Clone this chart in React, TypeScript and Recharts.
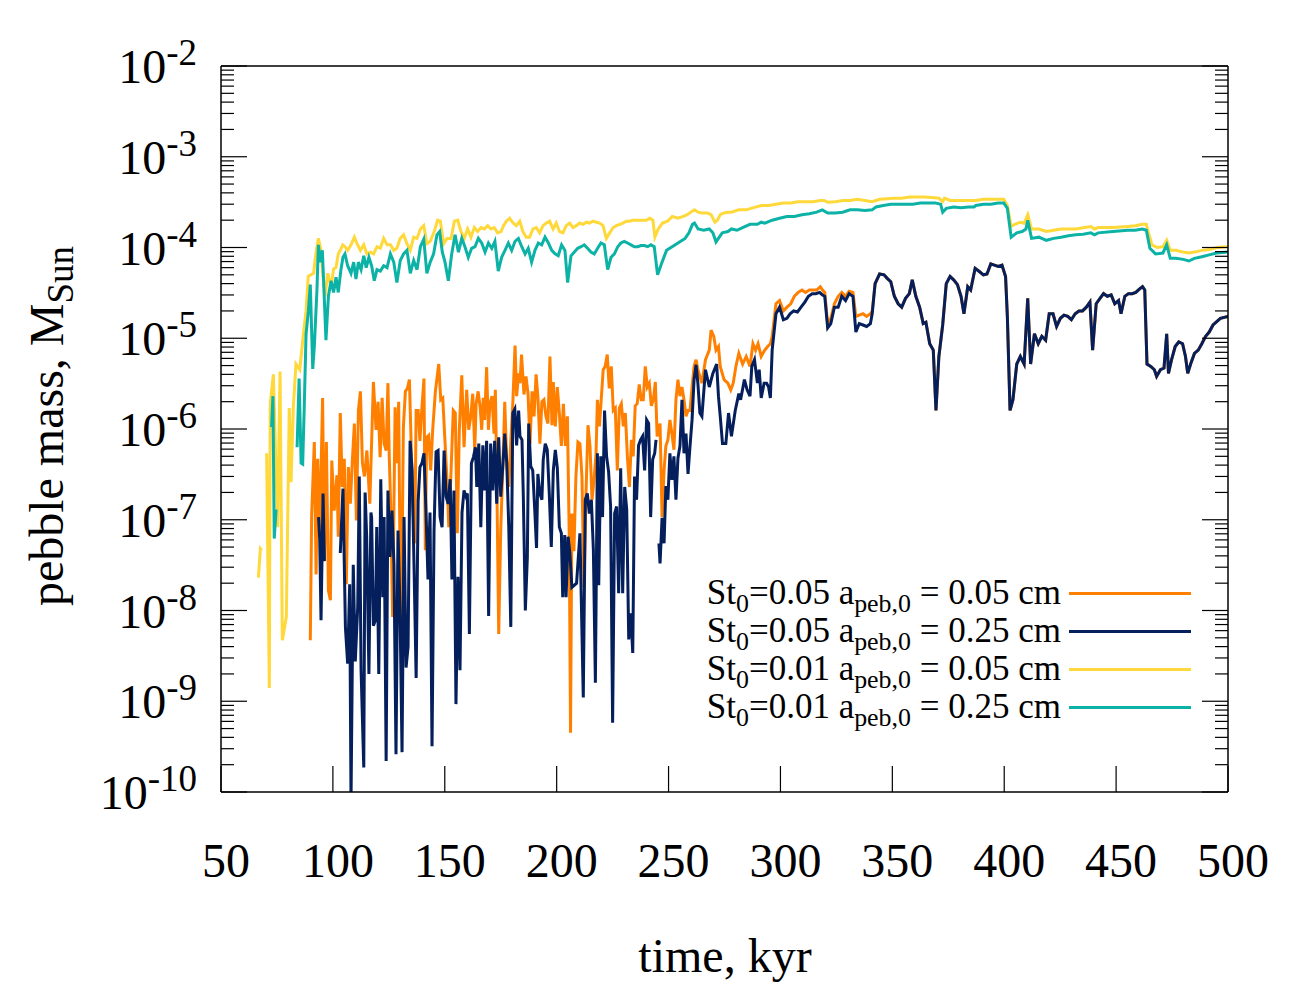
import React from 'react';
import { LineChart, Line, XAxis, YAxis, Legend } from 'recharts';

type Pt = [number, number | null];

const FONT = "'Liberation Serif', 'Times New Roman', Times, serif";

// axis ticks
const xTicks = [50, 100, 150, 200, 250, 300, 350, 400, 450, 500];
const yDecades = [1e-10, 1e-9, 1e-8, 1e-7, 1e-6, 1e-5, 1e-4, 1e-3, 1e-2];
const yExponents = ['-10', '-9', '-8', '-7', '-6', '-5', '-4', '-3', '-2'];
const minorSteps = [2, 3, 4, 5, 6, 7, 8, 9];

// St0=0.05, a_peb,0 = 0.05 cm (time in kyr, mass in M_sun)
const orangeEarly: Pt[] = [
  [89.9, 4.7e-9], [90.5, 1.1e-7], [91.7, 7.2e-7], [92.5, 2.5e-8], [93.2, 4.7e-7], [94.1, 6.5e-8], [95.4, 2.2e-6], [96.2, 3.5e-8],
  [97.1, 7.2e-7], [98.0, 1.66e-8], [98.9, 1.3e-8], [99.5, 4.5e-7], [100.6, 1.26e-7], [101.8, 3.1e-7], [102.4, 6.5e-8], [103.3, 1.5e-6],
  [104.2, 2.3e-7], [105.1, 4.7e-7], [106.0, 1.95e-8], [106.9, 3.8e-7], [107.8, 1.5e-7], [108.7, 4.5e-7], [109.6, 1.15e-6], [110.5, 9.8e-8],
  [111.4, 1.6e-6], [112.3, 2.6e-6], [113.2, 4.2e-7], [114.1, 3.0e-7], [115.2, 5.8e-7], [116.5, 1.5e-7], [118.1, 3.3e-6], [119.3, 9.8e-7],
  [120.2, 2.0e-6], [121.1, 4.9e-7], [122.0, 2.2e-6], [122.9, 6.9e-7], [123.8, 5.8e-7], [124.6, 3.2e-6], [125.2, 4.9e-7], [125.8, 1.5e-7],
  [126.7, 8.5e-9], [127.8, 1.74e-6], [128.5, 4.2e-7], [129.4, 2.0e-6], [130.0, 3.9e-8], [130.6, 7.1e-9], [131.5, 1.05e-6], [132.4, 2.6e-6],
  [133.3, 2.8e-6], [134.2, 3.5e-6], [134.8, 9.8e-7], [135.7, 1.5e-7], [136.6, 5.5e-8], [137.2, 1.6e-6], [138.1, 1.6e-6], [138.9, 7.4e-7],
  [139.7, 1.6e-6], [140.7, 3.6e-6], [141.3, 4.6e-8], [141.9, 8.1e-7], [142.8, 8.5e-7], [143.7, 3.5e-7], [144.6, 9.8e-7], [145.8, 2.6e-6],
  [147.3, 5.2e-6], [148.2, 2.1e-6], [149.1, 2.2e-6], [150.0, 8.1e-7], [150.9, 3.0e-7], [151.8, 8.3e-8], [152.6, 2.5e-7], [153.8, 1.6e-6],
  [154.7, 1.5e-6], [155.6, 7.1e-8], [156.5, 9.8e-7], [157.6, 3.9e-6], [158.6, 6.3e-7], [159.8, 2.7e-6], [160.7, 9.8e-7], [161.6, 1.35e-6],
  [162.5, 2.45e-6], [163.4, 5.8e-7], [164.0, 1.9e-6], [164.9, 2.6e-6], [165.8, 1.74e-6], [166.5, 9.8e-7], [167.2, 2.2e-6], [167.8, 1.26e-6],
  [168.7, 4.8e-6], [169.5, 9.8e-7], [170.2, 1.9e-6], [171.1, 2.3e-6], [172.0, 8.9e-7], [172.6, 2.7e-6], [173.2, 3.5e-7], [174.1, 5.5e-9],
  [175.0, 7.6e-8], [175.9, 3.5e-7], [176.8, 2.0e-6], [177.7, 4.2e-7], [178.6, 2.3e-7], [179.5, 7.4e-7], [180.4, 1.9e-6], [181.4, 8.3e-6],
  [182.1, 2.3e-6], [183.0, 4.1e-6], [183.6, 3.2e-6], [184.3, 6.6e-6], [185.4, 2.4e-6], [186.3, 3.8e-6], [187.2, 2.45e-6], [188.1, 6.9e-7],
  [189.0, 2.6e-6], [189.9, 1.38e-6], [190.8, 4.0e-6], [191.6, 2.3e-6], [192.5, 6.9e-7], [193.4, 2.0e-6], [194.3, 2.1e-6], [195.2, 1.38e-6],
  [196.1, 1.15e-6], [197.0, 6.3e-6], [197.9, 1.1e-6], [198.5, 3.3e-6], [199.4, 1.07e-6], [200.3, 2.9e-6], [201.2, 1.5e-6], [202.1, 6.5e-7],
  [203.0, 1.9e-6], [203.9, 6.5e-7], [204.8, 1.38e-6], [205.6, 7.1e-8], [206.2, 4.5e-10], [206.8, 1.17e-7], [207.7, 4.5e-8], [208.6, 3.0e-7],
  [209.5, 7.2e-7], [210.4, 6.9e-7], [211.3, 3.0e-7], [212.2, 1.8e-8], [213.1, 1.95e-7], [214.0, 1.1e-6], [214.9, 6.5e-7], [215.8, 1.66e-7],
  [216.7, 2.75e-7], [217.6, 5.4e-7], [218.2, 2.1e-6], [219.1, 1.07e-6], [219.9, 2.1e-6], [220.8, 4.5e-6], [221.7, 4.9e-6], [222.6, 6.6e-6],
  [223.5, 2.8e-6], [224.4, 4.9e-6], [225.3, 1.6e-6], [226.2, 1.7e-6], [227.1, 3.5e-7], [228.0, 1.7e-6], [228.9, 1.9e-6], [229.8, 1.07e-6],
  [230.7, 1.5e-6], [231.6, 5.0e-7], [232.5, 2.3e-7], [233.4, 7.6e-7], [234.2, 5.0e-7], [235.1, 1.8e-6], [236.0, 1.9e-6], [236.9, 3.1e-6],
  [237.8, 2.1e-6], [238.7, 2.1e-6], [239.6, 4.9e-6], [240.5, 2.9e-6], [241.4, 3.2e-6], [242.3, 1.8e-6], [243.2, 2.1e-6], [244.1, 3.3e-6],
  [244.9, 8.3e-7], [246.2, 1.15e-6], [247.1, 1.07e-7], [248.0, 3.5e-7], [248.8, 6.5e-7], [249.7, 7.6e-7], [250.6, 1.26e-6], [251.5, 8.9e-7],
  [252.4, 5.9e-7], [253.3, 2.1e-6], [254.2, 3.5e-6], [255.1, 2.3e-6], [256.0, 2.9e-6], [256.9, 2.1e-6], [257.8, 1.38e-6], [258.7, 1.6e-6],
  [259.6, 1.6e-6], [260.5, 2.9e-6], [261.4, 4.9e-6], [262.3, 5.8e-6], [263.1, 4.5e-6], [264.9, 3.2e-6], [266.5, 5.8e-6], [268.2, 7.4e-6],
  [269.0, 1.23e-5], [270.2, 1.05e-5], [271.2, 7.4e-6], [272.3, 8.1e-6], [273.1, 4.9e-6], [274.8, 3.5e-6], [276.5, 3.2e-6], [277.8, 2.7e-6],
  [278.9, 3.2e-6], [280.1, 4.9e-6], [281.4, 6.8e-6], [283.1, 5.2e-6], [284.7, 6.3e-6], [286.4, 4.9e-6], [287.7, 8.7e-6], [288.9, 7.4e-6],
  [290.0, 8.7e-6], [291.4, 6.3e-6], [293.0, 7.4e-6], [294.3, 8.1e-6], [295.5, 8.7e-6], [296.3, 1.05e-5], [298.0, 2.4e-5], [299.6, 2.6e-5],
  [301.3, 2.0e-5], [302.9, 2.2e-5], [304.6, 2.4e-5], [306.2, 2.9e-5], [307.9, 3.2e-5], [309.6, 3.4e-5], [311.2, 3.2e-5], [312.9, 3.4e-5],
  [314.5, 3.4e-5], [316.2, 3.4e-5], [317.8, 3.7e-5], [318.8, 3.4e-5], [319.8, 3.2e-5], [321.1, 1.45e-5], [322.5, 1.66e-5], [324.1, 2.4e-5],
  [325.8, 2.9e-5], [327.4, 3.2e-5], [329.1, 2.9e-5], [330.7, 3.3e-5], [332.4, 3.2e-5], [333.7, 1.74e-5], [335.2, 1.8e-5], [336.9, 1.86e-5],
  [338.5, 1.74e-5], [340.2, 1.86e-5], [341.0, 2.0e-5],
];

// St0=0.05, a_peb,0 = 0.25 cm
const navyEarly: Pt[] = [
  [93.6, 1.07e-7], [94.1, 6.2e-8], [94.7, 7.8e-9], [95.6, 1.95e-7], [96.2, 3.5e-8], [99.0, null], [103.3, 4.3e-8], [104.5, 2.2e-7],
  [105.6, 6.5e-9], [106.6, 2.6e-9], [107.5, 1.95e-8], [108.1, 8e-11], [109.1, 3.2e-8], [110.0, 2.75e-9], [111.1, 1.1e-8], [111.8, 3.0e-7],
  [112.6, 2.2e-9], [113.8, 1.86e-10], [114.4, 2.0e-7], [115.1, 6.5e-8], [116.1, 2.0e-9], [117.0, 1.2e-7], [117.3, 1.07e-7], [118.1, 6.8e-9],
  [119.0, 7.8e-9], [119.6, 8.3e-8], [120.5, 2.0e-9], [121.4, 2.8e-7], [122.3, 1.4e-8], [122.9, 1.07e-7], [123.8, 2.2e-10], [124.6, 2.1e-7],
  [125.5, 3.9e-8], [126.4, 1.26e-7], [127.3, 3.2e-8], [128.2, 2.6e-10], [129.1, 7.6e-8], [130.0, 1.0e-8], [130.9, 2.75e-10], [131.8, 1.07e-7],
  [132.7, 2.35e-9], [133.6, 4.0e-9], [134.5, 7.4e-7], [135.4, 3.5e-7], [136.3, 2.75e-8], [137.2, 1.8e-9], [138.1, 1.6e-7], [138.9, 3.8e-7],
  [139.8, 4.2e-7], [140.7, 5.4e-7], [141.6, 1.26e-7], [142.5, 2.2e-8], [143.4, 1.2e-7], [144.3, 3.2e-10], [145.2, 7.6e-8], [146.1, 5.6e-7],
  [147.0, 5.8e-7], [147.9, 1.07e-7], [148.8, 8.3e-8], [149.7, 5.8e-7], [150.6, 1.8e-7], [151.5, 1.5e-7], [152.4, 2.8e-7], [153.2, 2.2e-8],
  [154.1, 2.1e-7], [155.0, 9.3e-10], [155.9, 2.35e-8], [156.8, 2.2e-9], [157.7, 1.2e-7], [158.6, 2.1e-7], [159.5, 1.8e-7], [160.1, 1.95e-7],
  [161.0, 5.5e-9], [161.9, 4.2e-7], [162.8, 4.9e-7], [163.7, 6.3e-7], [164.3, 2.3e-7], [165.2, 6.9e-7], [166.1, 8.3e-8], [167.0, 6.6e-7],
  [167.8, 2.1e-7], [168.7, 7.4e-7], [169.6, 8.7e-9], [170.5, 6.9e-7], [171.4, 2.1e-7], [172.3, 7.4e-7], [173.2, 1.5e-7], [174.1, 8.1e-7],
  [175.0, 1.8e-7], [175.9, 3.8e-7], [176.8, 8.9e-7], [177.7, 4.2e-7], [178.6, 8.3e-8], [179.5, 6.6e-9], [180.4, 1.5e-6], [181.3, 1.66e-6],
  [182.1, 6.6e-7], [183.0, 1.6e-6], [183.6, 8.3e-7], [184.5, 7.6e-7], [185.1, 1.8e-7], [186.0, 1.0e-8], [186.9, 3.9e-8], [187.5, 1.15e-6],
  [188.4, 3.9e-7], [189.3, 3.5e-7], [190.2, 1.3e-7], [191.0, 4.9e-8], [191.6, 3.2e-7], [192.5, 1.95e-7], [193.4, 1.66e-7], [194.0, 4.6e-7],
  [194.9, 6.9e-7], [195.8, 5.9e-7], [196.7, 1.95e-7], [197.6, 5.0e-8], [198.5, 3.5e-7], [199.4, 5.9e-7], [200.3, 3.7e-7], [201.2, 8.3e-8],
  [202.1, 7.1e-8], [202.7, 1.4e-8], [203.6, 6.8e-8], [204.2, 1.4e-8], [205.1, 6.5e-8], [205.9, 4.3e-8], [206.8, 1.8e-8], [208.9, 2.0e-8],
  [210.4, 7.1e-8], [211.9, 1.1e-9], [212.8, 1.66e-7], [213.7, 1.95e-7], [214.6, 1.17e-7], [215.5, 1.66e-7], [216.4, 4.7e-8], [217.3, 1.6e-9],
  [218.2, 5.4e-7], [218.8, 1.9e-8], [219.7, 5.0e-7], [220.5, 1.07e-7], [221.4, 1.6e-6], [222.3, 5.0e-7], [223.2, 3.4e-7], [224.1, 1.4e-7],
  [225.0, 5.8e-10], [225.9, 1.17e-7], [226.8, 1.4e-7], [227.7, 1.55e-8], [228.6, 3.7e-7], [229.5, 1.55e-8], [230.4, 2.3e-7], [231.3, 1.3e-7],
  [232.2, 4.8e-9], [233.1, 9.3e-9], [234.0, 3.4e-9], [234.8, 3.0e-7], [235.7, 1.66e-7], [236.6, 6.6e-7], [237.5, 7.6e-7], [238.4, 8.3e-7],
  [239.3, 3.5e-7], [240.2, 1.26e-6], [241.1, 1.15e-6], [242.0, 1.07e-7], [242.9, 4.6e-7], [243.8, 5.4e-7], [244.4, 7.6e-7], [244.9, null],
  [245.7, 5.5e-8], [246.2, 3.3e-8], [247.1, 1.05e-7], [248.0, 5.5e-8], [248.8, 2.35e-7], [249.7, 1.66e-7], [250.6, 5.4e-7], [251.5, 2.75e-7],
  [252.4, 5.0e-7], [253.3, 1.66e-7], [254.2, 4.8e-7], [255.1, 6.5e-7], [256.0, 2.1e-6], [256.9, 5.4e-7], [257.8, 8.9e-7], [258.7, 3.2e-7],
  [259.6, 6.5e-7], [260.5, 1.26e-6], [261.4, 3.5e-6], [262.3, 5.1e-6], [263.1, 3.2e-6], [264.0, 1.5e-6], [264.9, 1.38e-6], [266.5, 4.5e-6],
  [268.2, 2.9e-6], [269.8, 4.1e-6], [271.5, 5.2e-6], [272.3, 2.3e-6], [273.1, 1.38e-6], [274.1, 6.9e-7], [275.6, 6.9e-7], [276.8, 1.5e-6],
  [278.1, 8.3e-7], [279.8, 1.6e-6], [281.4, 2.45e-6], [282.2, 2.1e-6], [283.9, 3.5e-6], [285.1, 2.7e-6], [286.4, 2.3e-6], [287.2, 4.9e-6],
  [288.4, 5.8e-6], [289.7, 3.2e-6], [290.5, 4.5e-6], [291.4, 2.2e-6], [292.7, 3.2e-6], [293.8, 3.2e-6], [294.7, 2.9e-6], [295.5, 2.2e-6],
  [296.3, 7.4e-6], [298.0, 1.86e-5], [299.6, 2.2e-5], [301.3, 1.6e-5], [302.9, 1.66e-5], [304.3, 1.86e-5], [305.9, 2.0e-5], [307.6, 1.95e-5],
  [309.2, 2.2e-5], [310.9, 2.5e-5], [312.5, 2.9e-5], [314.2, 3.1e-5], [315.8, 3.1e-5], [317.5, 3.2e-5], [318.8, 3.0e-5], [319.8, 2.9e-5],
  [321.1, 1.3e-5], [322.5, 1.45e-5], [324.1, 2.2e-5], [325.8, 2.2e-5], [327.4, 2.9e-5], [329.1, 2.6e-5], [330.7, 3.1e-5], [332.4, 2.9e-5],
  [333.7, 1.17e-5], [335.2, 1.45e-5], [336.9, 1.4e-5], [338.5, 1.35e-5], [340.2, 1.45e-5], [341.0, 1.86e-5],
];

// after ~342 kyr both St0=0.05 runs lie on top of each other
const st005SharedTail: Pt[] = [
  [342.3, 4.0e-5], [344.3, 5.1e-5], [346.3, 5.0e-5], [347.6, 4.6e-5], [349.3, 4.2e-5], [350.9, 2.9e-5], [352.6, 2.4e-5], [354.2, 2.2e-5],
  [355.9, 2.75e-5], [357.6, 3.1e-5], [358.9, 4.4e-5], [360.5, 2.9e-5], [362.2, 2.2e-5], [363.8, 1.45e-5], [365.0, 1.5e-5], [366.7, 8.7e-6],
  [368.3, 7.4e-6], [369.5, 1.6e-6], [370.8, 6.3e-6], [372.5, 1.4e-5], [374.1, 4.0e-5], [375.8, 4.8e-5], [377.4, 4.4e-5], [379.1, 3.9e-5],
  [380.7, 2.9e-5], [382.0, 1.86e-5], [383.7, 3.7e-5], [385.0, 3.4e-5], [387.0, 5.9e-5], [389.0, 5.4e-5], [390.7, 5.0e-5], [392.3, 5.1e-5],
  [394.0, 6.6e-5], [395.6, 6.4e-5], [397.3, 6.2e-5], [399.0, 6.4e-5], [400.6, 4.8e-5], [401.4, 1.74e-5], [402.6, 1.6e-6], [403.9, 2.1e-6],
  [405.6, 5.2e-6], [407.2, 6.3e-6], [408.9, 5.2e-6], [410.5, 2.75e-5], [411.8, 5.2e-6], [413.5, 1.12e-5], [415.2, 8.7e-6], [416.8, 1.05e-5],
  [418.5, 9.5e-6], [420.1, 1.86e-5], [421.8, 1.86e-5], [423.4, 1.35e-5], [425.1, 1.66e-5], [426.7, 1.8e-5], [428.4, 1.74e-5], [430.0, 1.6e-5],
  [431.7, 1.86e-5], [433.4, 2.0e-5], [435.0, 2.0e-5], [436.7, 2.2e-5], [438.3, 2.5e-5], [439.5, 7.4e-6], [441.1, 2.4e-5], [442.8, 2.75e-5],
  [444.4, 3.1e-5], [446.1, 2.9e-5], [447.8, 3.0e-5], [449.4, 2.4e-5], [451.1, 2.6e-5], [452.2, 1.86e-5], [453.9, 2.9e-5], [455.5, 3.1e-5],
  [457.2, 3.1e-5], [458.8, 3.2e-5], [460.5, 3.5e-5], [461.8, 3.7e-5], [462.8, 3.4e-5], [463.8, 5.2e-6], [465.5, 4.9e-6], [467.1, 4.5e-6],
  [468.1, 3.8e-6], [469.8, 4.5e-6], [471.4, 4.7e-6], [472.6, 1.12e-5], [473.4, 4.1e-6], [474.7, 5.7e-6], [476.4, 8.1e-6], [478.0, 9.1e-6],
  [479.7, 8.7e-6], [481.0, 6.3e-6], [482.0, 4.1e-6], [483.3, 5.2e-6], [485.0, 6.8e-6], [486.7, 7.4e-6], [488.3, 8.7e-6], [490.0, 1.05e-5],
  [491.6, 1.17e-5], [493.3, 1.4e-5], [496.6, 1.66e-5], [500.0, 1.74e-5],
];

// St0=0.01, a_peb,0 = 0.05 cm
const yellowPts: Pt[] = [
  [66.7, 2.3e-8], [67.6, 4.8e-8], [68.2, 4.6e-8], [69.2, null], [70.4, 5.4e-7], [71.6, 1.4e-9], [72.0, 1.9e-6], [73.4, 4.0e-6],
  [75.3, 8.3e-8], [76.4, 4.3e-6], [77.4, 4.7e-9], [79.2, 8.5e-9], [80.5, 1.7e-6], [81.3, 2.6e-7], [82.3, 1.7e-6], [83.5, 5.2e-6],
  [85.2, 4.5e-6], [86.8, 1.1e-5], [88.0, 2.0e-5], [89.0, 4.8e-5], [90.2, 5.0e-5], [91.4, 5.2e-5], [92.4, 8.5e-5], [93.5, 1.26e-4],
  [94.7, 9.3e-5], [95.6, 4.8e-5], [96.5, 2.9e-5], [97.7, 5.2e-5], [99.2, 3.7e-5], [100.3, 5.8e-5], [101.4, 6.0e-5], [102.4, 8.5e-5],
  [103.3, 9.3e-5], [104.4, 1.07e-4], [105.4, 1.02e-4], [106.6, 9.3e-5], [108.1, 1.07e-4], [109.6, 1.3e-4], [110.8, 1.1e-4], [112.3, 9.3e-5],
  [113.8, 1.07e-4], [115.2, 8.5e-5], [116.7, 8.9e-5], [118.2, 8.5e-5], [119.7, 1.02e-4], [121.2, 9.8e-5], [122.7, 1.26e-4], [124.2, 1.07e-4],
  [125.7, 1.07e-4], [127.2, 9.3e-5], [128.6, 9.8e-5], [130.1, 1.26e-4], [131.6, 1.38e-4], [133.1, 1.1e-4], [134.6, 9.3e-5], [136.1, 1.3e-4],
  [137.6, 1.26e-4], [139.1, 1.6e-4], [140.6, 1.74e-4], [142.0, 1.1e-4], [143.5, 1.17e-4], [145.3, 1.5e-4], [146.8, 2.0e-4], [148.0, 1.95e-4],
  [149.5, 1.1e-4], [151.0, 1.26e-4], [152.8, 1.26e-4], [154.3, 1.95e-4], [155.8, 2.0e-4], [157.2, 1.5e-4], [158.7, 1.26e-4], [160.2, 1.6e-4],
  [161.7, 1.3e-4], [163.2, 1.66e-4], [164.7, 1.5e-4], [166.2, 1.66e-4], [167.7, 1.6e-4], [169.2, 1.74e-4], [170.6, 1.6e-4], [172.1, 1.66e-4],
  [173.6, 1.45e-4], [175.1, 1.5e-4], [176.3, 1.74e-4], [177.5, 1.95e-4], [179.0, 2.1e-4], [180.5, 1.86e-4], [182.0, 1.74e-4], [183.5, 1.95e-4],
  [184.9, 1.5e-4], [186.4, 1.3e-4], [187.9, 1.3e-4], [189.4, 1.6e-4], [190.9, 1.66e-4], [192.4, 1.45e-4], [193.9, 1.74e-4], [195.4, 1.86e-4],
  [196.9, 1.95e-4], [198.4, 1.6e-4], [199.8, 1.86e-4], [201.3, 1.5e-4], [202.8, 1.45e-4], [204.3, 1.74e-4], [205.8, 1.86e-4], [207.3, 1.66e-4],
  [208.8, 1.74e-4], [210.3, 1.86e-4], [211.8, 1.8e-4], [213.3, 1.9e-4], [214.7, 1.86e-4], [216.2, 1.95e-4], [217.7, 1.9e-4], [219.2, 1.86e-4],
  [220.7, 1.74e-4], [222.2, 1.26e-4], [223.7, 1.45e-4], [225.2, 1.66e-4], [226.7, 1.74e-4], [228.2, 1.8e-4], [229.6, 1.86e-4], [231.1, 1.95e-4],
  [232.6, 1.95e-4], [234.1, 2.0e-4], [235.6, 2.0e-4], [237.1, 2.0e-4], [238.6, 2.0e-4], [240.1, 2.0e-4], [241.6, 2.1e-4], [243.0, 2.0e-4],
  [243.9, 1.3e-4], [245.4, 1.6e-4], [247.3, 1.86e-4], [249.6, 1.95e-4], [251.6, 2.2e-4], [254.1, 2.1e-4], [256.6, 2.2e-4], [258.3, 2.3e-4],
  [259.9, 2.45e-4], [261.6, 2.6e-4], [263.2, 2.45e-4], [264.9, 2.4e-4], [267.4, 2.4e-4], [269.0, 2.3e-4], [270.7, 1.9e-4], [271.8, 2.0e-4],
  [273.1, 2.3e-4], [274.8, 2.4e-4], [276.5, 2.45e-4], [278.1, 2.45e-4], [281.4, 2.6e-4], [284.7, 2.6e-4], [288.0, 2.75e-4], [291.4, 2.9e-4],
  [294.7, 2.9e-4], [298.0, 3.0e-4], [301.3, 3.1e-4], [304.6, 3.1e-4], [307.9, 3.2e-4], [311.2, 3.2e-4], [314.5, 3.2e-4], [317.8, 3.3e-4],
  [319.5, 3.3e-4], [321.1, 3.15e-4], [324.5, 3.2e-4], [327.8, 3.3e-4], [331.1, 3.3e-4], [334.4, 3.4e-4], [337.7, 3.3e-4], [341.0, 3.2e-4],
  [344.3, 3.4e-4], [347.6, 3.45e-4], [350.9, 3.5e-4], [354.2, 3.5e-4], [357.6, 3.6e-4], [360.9, 3.6e-4], [364.2, 3.6e-4], [367.5, 3.55e-4],
  [370.8, 3.5e-4], [372.5, 3.2e-4], [373.3, 3.5e-4], [375.8, 3.3e-4], [379.1, 3.3e-4], [384.0, 3.3e-4], [387.3, 3.3e-4], [390.7, 3.4e-4],
  [394.0, 3.4e-4], [397.3, 3.4e-4], [399.8, 3.4e-4], [401.4, 2.9e-4], [403.1, 1.7e-4], [404.7, 1.8e-4], [407.2, 1.9e-4], [408.9, 1.85e-4],
  [410.5, 2.3e-4], [412.2, 1.6e-4], [415.5, 1.6e-4], [418.8, 1.5e-4], [422.1, 1.55e-4], [425.4, 1.6e-4], [428.7, 1.6e-4], [432.0, 1.6e-4],
  [435.3, 1.65e-4], [438.7, 1.7e-4], [440.3, 1.6e-4], [442.0, 1.66e-4], [448.6, 1.66e-4], [455.2, 1.7e-4], [458.5, 1.74e-4], [461.8, 1.8e-4],
  [463.5, 1.8e-4], [464.3, 1.5e-4], [466.0, 1.07e-4], [468.4, 1.0e-4], [470.9, 1.02e-4], [472.6, 1.2e-4], [474.2, 9.3e-5], [476.7, 9.3e-5],
  [480.0, 8.9e-5], [482.5, 8.7e-5], [485.0, 8.9e-5], [488.3, 9.3e-5], [491.6, 9.5e-5], [494.9, 1.0e-4], [500.0, 1.02e-4],
];

// St0=0.01, a_peb,0 = 0.25 cm
const tealPts: Pt[] = [
  [72.6, 1.05e-6], [73.2, 2.3e-6], [73.8, 6.2e-8], [74.6, 1.3e-7], [78.0, null], [84.0, 6.3e-7], [84.9, 3.6e-6], [85.8, 4.2e-7],
  [86.5, 4.1e-7], [87.2, 1.74e-6], [88.0, 1.1e-5], [89.0, 1.95e-5], [89.9, 3.9e-5], [91.0, 4.6e-6], [91.7, 8.1e-6], [92.9, 3.5e-5],
  [93.5, 1.07e-4], [94.4, 6.9e-5], [95.3, 9.3e-5], [96.2, 2.6e-5], [96.9, 9.5e-6], [98.0, 2.9e-5], [99.2, 4.3e-5], [100.3, 3.2e-5],
  [101.4, 4.7e-5], [102.4, 3.2e-5], [103.6, 5.7e-5], [104.5, 7.8e-5], [105.4, 8.5e-5], [106.6, 6.3e-5], [108.1, 5.2e-5], [109.3, 6.9e-5],
  [110.3, 4.5e-5], [111.4, 6.9e-5], [112.6, 5.7e-5], [113.8, 8.1e-5], [114.9, 6.0e-5], [116.1, 7.8e-5], [117.3, 6.3e-5], [118.5, 4.3e-5],
  [119.7, 5.7e-5], [121.2, 5.5e-5], [122.7, 6.3e-5], [124.2, 6.0e-5], [125.7, 8.5e-5], [127.2, 6.9e-5], [128.6, 4.1e-5], [130.1, 7.2e-5],
  [131.6, 8.5e-5], [133.1, 9.3e-5], [134.6, 5.2e-5], [136.1, 7.2e-5], [137.6, 5.7e-5], [139.1, 1.02e-4], [140.6, 1.23e-4], [142.0, 5.2e-5],
  [143.5, 6.9e-5], [145.0, 8.5e-5], [146.5, 1.38e-4], [147.7, 1.5e-4], [148.9, 8.9e-5], [150.1, 6.9e-5], [151.6, 4.3e-5], [153.1, 8.5e-5],
  [154.6, 1.38e-4], [156.1, 8.9e-5], [157.6, 1.26e-4], [159.0, 1.02e-4], [160.5, 7.8e-5], [162.0, 9.8e-5], [163.5, 1.02e-4], [165.0, 1.26e-4],
  [166.5, 1.12e-4], [168.0, 8.9e-5], [169.5, 1.12e-4], [171.0, 9.8e-5], [172.4, 1.17e-4], [173.9, 5.5e-5], [175.4, 7.8e-5], [176.9, 9.3e-5],
  [178.4, 1.12e-4], [179.9, 9.3e-5], [181.4, 1.17e-4], [182.9, 1.26e-4], [184.4, 1.02e-4], [185.9, 8.5e-5], [187.3, 9.8e-5], [188.8, 6.9e-5],
  [190.3, 9.3e-5], [191.8, 1.12e-4], [193.3, 1.07e-4], [194.8, 1.3e-4], [196.3, 1.12e-4], [197.8, 9.3e-5], [199.3, 8.5e-5], [200.7, 8.1e-5],
  [202.2, 1.07e-4], [203.7, 9.3e-5], [204.9, 4.1e-5], [206.4, 8.1e-5], [207.9, 8.9e-5], [209.4, 9.8e-5], [210.9, 1.02e-4], [212.3, 1.07e-4],
  [213.8, 9.8e-5], [215.3, 8.9e-5], [216.8, 8.5e-5], [218.3, 9.8e-5], [219.8, 1.12e-4], [221.3, 1.07e-4], [222.8, 5.7e-5], [224.3, 7.8e-5],
  [225.8, 8.5e-5], [227.3, 1.02e-4], [228.7, 1.12e-4], [230.2, 1.17e-4], [231.7, 1.12e-4], [233.2, 1.07e-4], [234.7, 1.02e-4], [236.2, 1.02e-4],
  [237.7, 1.05e-4], [239.2, 1.05e-4], [240.7, 1.02e-4], [242.1, 1.07e-4], [243.6, 1.02e-4], [245.1, 5.0e-5], [247.0, 6.8e-5], [249.1, 9.3e-5],
  [251.6, 1.02e-4], [254.9, 1.15e-4], [257.4, 1.26e-4], [259.1, 1.45e-4], [260.7, 1.8e-4], [261.6, 1.86e-4], [263.2, 1.6e-4], [265.7, 1.55e-4],
  [268.2, 1.6e-4], [269.8, 1.45e-4], [271.2, 1.15e-4], [272.3, 1.26e-4], [274.0, 1.45e-4], [276.5, 1.5e-4], [278.1, 1.6e-4], [280.6, 1.55e-4],
  [283.1, 1.66e-4], [286.4, 1.8e-4], [289.7, 1.8e-4], [291.4, 1.9e-4], [293.0, 1.85e-4], [296.3, 2.0e-4], [299.6, 2.1e-4], [302.9, 2.2e-4],
  [306.2, 2.2e-4], [309.6, 2.3e-4], [312.9, 2.35e-4], [316.2, 2.45e-4], [318.7, 2.6e-4], [321.1, 2.4e-4], [324.5, 2.4e-4], [327.8, 2.45e-4],
  [331.1, 2.6e-4], [334.4, 2.6e-4], [337.7, 2.55e-4], [341.0, 2.6e-4], [342.7, 2.8e-4], [346.0, 2.9e-4], [349.3, 3.0e-4], [352.6, 3.0e-4],
  [355.9, 3.0e-4], [359.2, 3.0e-4], [362.5, 3.1e-4], [365.8, 3.1e-4], [369.1, 3.1e-4], [371.6, 3.0e-4], [372.5, 2.45e-4], [374.1, 2.7e-4],
  [377.4, 2.8e-4], [380.7, 2.75e-4], [384.0, 2.8e-4], [386.5, 2.8e-4], [387.3, 2.9e-4], [390.7, 3.0e-4], [394.0, 3.0e-4], [397.3, 3.1e-4],
  [399.8, 3.1e-4], [401.4, 2.7e-4], [403.1, 1.3e-4], [405.6, 1.45e-4], [408.0, 1.5e-4], [409.7, 1.6e-4], [410.5, 2.0e-4], [412.2, 1.26e-4],
  [415.5, 1.3e-4], [418.8, 1.2e-4], [422.1, 1.26e-4], [425.4, 1.3e-4], [428.7, 1.35e-4], [432.0, 1.38e-4], [435.3, 1.4e-4], [438.7, 1.45e-4],
  [440.3, 1.38e-4], [442.0, 1.45e-4], [448.6, 1.5e-4], [455.2, 1.55e-4], [458.5, 1.55e-4], [461.8, 1.6e-4], [463.5, 1.55e-4], [465.1, 9.8e-5],
  [467.6, 8.5e-5], [470.9, 8.7e-5], [472.6, 1.07e-4], [474.2, 7.6e-5], [476.7, 7.6e-5], [480.0, 7.4e-5], [482.5, 7.1e-5], [485.0, 7.6e-5],
  [488.3, 7.9e-5], [491.6, 8.3e-5], [494.9, 8.7e-5], [500.0, 8.9e-5],
];

const toRows = (pts: Pt[]) => pts.map(([t, m]) => ({ t, m }));

const series = [
  { key: 'st005_a005', st: '0.05', a: '0.05', color: '#ff8000', rows: toRows([...orangeEarly, ...st005SharedTail]) },
  { key: 'st005_a025', st: '0.05', a: '0.25', color: '#041f5b', rows: toRows([...navyEarly, ...st005SharedTail]) },
  { key: 'st001_a005', st: '0.01', a: '0.05', color: '#ffd83a', rows: toRows(yellowPts) },
  { key: 'st001_a025', st: '0.01', a: '0.25', color: '#0cb2a6', rows: toRows(tealPts) },
];

const yTicks = yDecades.flatMap((d, i) =>
  i === yDecades.length - 1 ? [d] : [d, ...minorSteps.map((k) => k * d)]
);

const MAJOR = 26;
const MINOR = 13;

const LeftTick = (props: any) => {
  const { x, y, payload } = props;
  const idx = yDecades.indexOf(payload.value);
  return (
    <g>
      <line x1={x} x2={x + (idx >= 0 ? MAJOR : MINOR)} y1={y} y2={y} stroke="#000" strokeWidth={1.2} />
      {idx >= 0 && (
        <text x={x - 24} y={y + 17} textAnchor="end" fontFamily={FONT} fontSize={48} fill="#000">
          10<tspan dy={-18} fontSize={37}>{yExponents[idx]}</tspan>
        </text>
      )}
    </g>
  );
};

const RightTick = (props: any) => {
  const { x, y, payload } = props;
  const major = yDecades.indexOf(payload.value) >= 0;
  return <line x1={x} x2={x - (major ? MAJOR : MINOR)} y1={y} y2={y} stroke="#000" strokeWidth={1.2} />;
};

const BottomTick = (props: any) => {
  const { x, y, payload } = props;
  return (
    <g>
      <line x1={x} x2={x} y1={y} y2={y - MAJOR} stroke="#000" strokeWidth={1.2} />
      <text x={x + 5} y={y + 85} textAnchor="middle" fontFamily={FONT} fontSize={48} fill="#000">
        {payload.value}
      </text>
    </g>
  );
};

const TopTick = (props: any) => {
  const { x, y } = props;
  return <line x1={x} x2={x} y1={y} y2={y + MAJOR} stroke="#000" strokeWidth={1.2} />;
};

const subStyle: React.CSSProperties = { fontSize: '0.74em', verticalAlign: '-0.32em', lineHeight: 0 };

const LegendBox = (props: any) => {
  const entries = (props.payload || []).slice().sort(
    (p: any, q: any) => series.findIndex((s) => s.key === p.value) - series.findIndex((s) => s.key === q.value)
  );
  return (
    <div style={{ fontFamily: FONT, fontSize: 35, color: '#000' }}>
      {entries.map((entry: any) => {
        const s = series.find((it) => it.key === entry.value);
        if (!s) return null;
        return (
          <div key={s.key} style={{ display: 'flex', justifyContent: 'flex-end', alignItems: 'center', height: 38 }}>
            <span style={{ whiteSpace: 'nowrap', lineHeight: '38px' }}>
              St<sub style={subStyle}>0</sub>={s.st} a<sub style={subStyle}>peb,0</sub> = {s.a} cm
            </span>
            <span style={{ display: 'inline-block', width: 122, height: 0, borderTop: `3px solid ${entry.color}`, marginLeft: 8 }} />
          </div>
        );
      })}
    </div>
  );
};

const axisLine = { stroke: '#000', strokeWidth: 1.5 };

export default function App() {
  return (
    <div style={{ position: 'absolute', left: 0, top: 0, width: 1300, height: 1000, background: '#fff' }}>
      <LineChart width={1300} height={1000} margin={{ top: 65, right: 71, bottom: 108, left: 81 }}>
        <XAxis
          xAxisId="bottom"
          dataKey="t"
          type="number"
          domain={[50, 500]}
          ticks={xTicks}
          interval={0}
          allowDataOverflow
          height={100}
          tickSize={0}
          tickMargin={0}
          tickLine={false}
          axisLine={axisLine}
          tick={BottomTick}
        />
        <XAxis
          xAxisId="top"
          orientation="top"
          type="number"
          domain={[50, 500]}
          ticks={xTicks}
          interval={0}
          allowDataOverflow
          height={1}
          tickSize={0}
          tickMargin={0}
          tickLine={false}
          axisLine={axisLine}
          tick={TopTick}
        />
        <YAxis
          yAxisId="left"
          scale="log"
          domain={[1e-10, 1e-2]}
          ticks={yTicks}
          interval={0}
          allowDataOverflow
          width={140}
          tickSize={0}
          tickMargin={0}
          tickLine={false}
          axisLine={axisLine}
          tick={LeftTick}
        />
        <YAxis
          yAxisId="right"
          orientation="right"
          scale="log"
          domain={[1e-10, 1e-2]}
          ticks={yTicks}
          interval={0}
          allowDataOverflow
          width={1}
          tickSize={0}
          tickMargin={0}
          tickLine={false}
          axisLine={axisLine}
          tick={RightTick}
        />
        {series.map((s) => (
          <Line
            key={s.key}
            name={s.key}
            data={s.rows}
            dataKey="m"
            xAxisId="bottom"
            yAxisId="left"
            type="linear"
            stroke={s.color}
            strokeWidth={3}
            dot={false}
            activeDot={false}
            connectNulls={false}
            isAnimationActive={false}
          />
        ))}
        <Legend
          layout="horizontal"
          verticalAlign="middle"
          align="center"
          wrapperStyle={{ position: 'absolute', left: 591, top: 574, width: 600 }}
          content={LegendBox}
        />
      </LineChart>
      <svg width={1300} height={1000} style={{ position: 'absolute', left: 0, top: 0, pointerEvents: 'none' }}>
        <text x={725} y={972} textAnchor="middle" fontFamily={FONT} fontSize={48} fill="#000">
          time, kyr
        </text>
        <text x={63} y={426} transform="rotate(-90 63 426)" textAnchor="middle" fontFamily={FONT} fontSize={48} fill="#000">
          pebble mass, M<tspan dy={10} fontSize={37}>Sun</tspan>
        </text>
      </svg>
    </div>
  );
}
